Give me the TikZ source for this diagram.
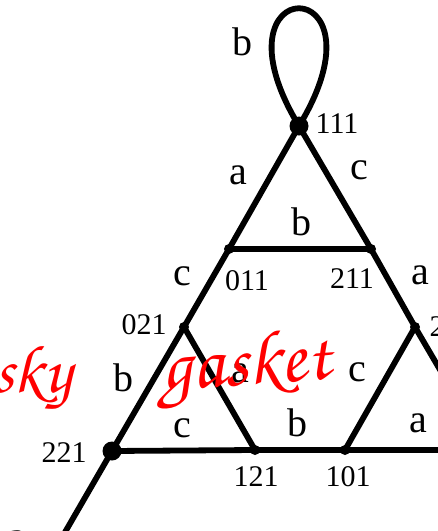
\documentclass[tikz,border=0pt]{standalone}
\usepackage[T1]{fontenc}
\usepackage{fontspec}
\setmainfont{Liberation Serif}
\usepackage{tikz}
\usetikzlibrary{positioning}
\newcommand\handfont{\fontencoding{T1}\fontfamily{pzc}\fontseries{mb}\fontshape{it}\selectfont}

\begin{document}
\begin{tikzpicture}[
      x=0.5pt,y=-0.5pt,
      bigdot/.style={circle,fill=black,inner sep=0pt,minimum size=9.5pt},
      dot/.style={circle,fill=black,inner sep=0pt,minimum size=5pt},
      link/.style={line width=2.9pt},
      elab/.style={font=\fontsize{20}{23}\selectfont,inner sep=0pt},
      vlab/.style={font=\fontsize{15}{18}\selectfont,inner sep=0pt},
      scribble/.style={red,inner sep=0pt}
    ]
    \useasboundingbox (0,0) rectangle (438,531);
    % vertices
    \node[bigdot] (v111) at (299,126) {};
    \node[dot] (v011) at (229,249) {};
    \node[dot] (v211) at (371,249) {};
    \node[dot] (v021) at (184,327) {};
    \node[dot] (v201) at (415,327) {};
    \node[bigdot] (v221) at (112,451) {};
    \node[dot] (v121) at (255,450) {};
    \node[dot] (v101) at (345,450) {};
    \coordinate (v001) at (487,450);
    \coordinate (v220) at (20,610);
    % edges
    \draw[link] (v111.center) .. controls (204,-31) and (394,-31) .. (v111.center);
    \draw[link] (v111.center) -- (v011.center);
    \draw[link] (v111.center) -- (v211.center);
    \draw[link] (v011.center) -- (v211.center);
    \draw[link] (v011.center) -- (v021.center);
    \draw[link] (v211.center) -- (v201.center);
    \draw[link] (v021.center) -- (v221.center);
    \draw[link] (v021.center) -- (v121.center);
    \draw[link] (v221.center) -- (v121.center);
    \draw[link] (v121.center) -- (v101.center);
    \draw[link] (v101.center) -- (v201.center);
    \draw[link] (v101.center) -- (v001);
    \draw[link] (v201.center) -- (v001);
    \draw[link] (v221.center) -- (v220);
    % edge labels
    \node[elab] (eb0) at (242,42) {b};
    \node[elab] (ea1) at (238,175) {a};
    \node[elab] (ec1) at (359,170) {c};
    \node[elab] (eb1) at (301,222) {b};
    \node[elab] (ec2) at (182,276) {c};
    \node[elab] (ea2) at (420,275) {a};
    \node[elab] (eb2) at (123,378) {b};
    \node[elab] (ea3) at (240,373) {a};
    \node[elab] (ec3) at (182,428) {c};
    \node[elab] (eb3) at (297,423) {b};
    \node[elab] (ec4) at (357,372) {c};
    \node[elab] (ea4) at (418,423) {a};
    \node[elab] (ea5) at (17,540) {a};
    % vertex labels
    \node[vlab] (l111) at (337,124) {111};
    \node[vlab] (l011) at (247,281) {011};
    \node[vlab] (l211) at (352,279) {211};
    \node[vlab] (l021) at (144,325) {021};
    \node[vlab] (l201) at (452,327) {201};
    \node[vlab] (l221) at (64,453) {221};
    \node[vlab] (l121) at (256,477) {121};
    \node[vlab] (l101) at (348,477) {101};
    % scribbled title
    \node[scribble,font=\handfont\fontsize{34}{40}\selectfont,anchor=base east] (sky) at (72,392) {sky};
    \node[scribble,font=\handfont\fontsize{38}{44}\selectfont,anchor=base west,rotate=4] (gasket) at (162,391) {gasket};
  \end{tikzpicture}
\end{document}
